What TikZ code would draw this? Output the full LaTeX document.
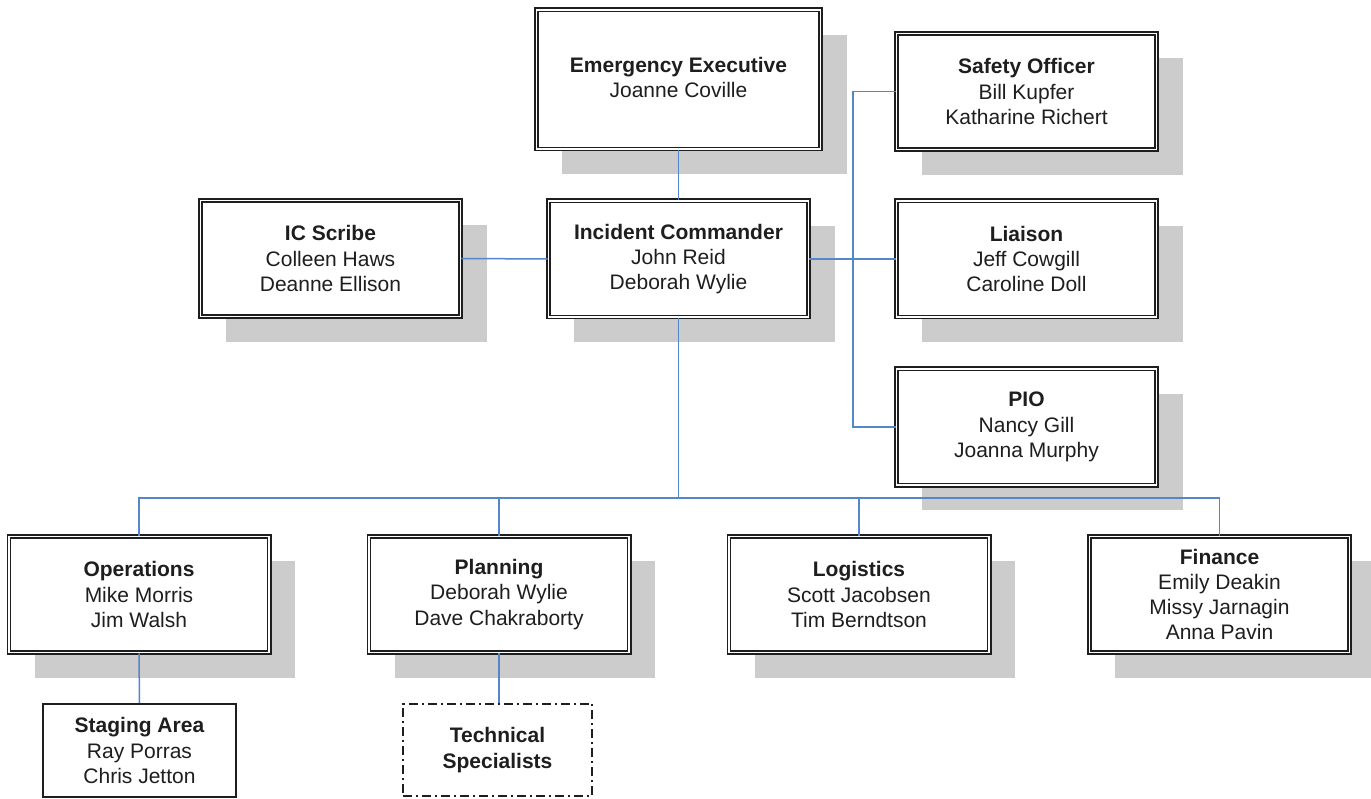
\documentclass[tikz,border=0pt]{standalone}
\usepackage{fontspec}
\setmainfont{Liberation Sans}
\usetikzlibrary{shadows}
\definecolor{shadowgray}{RGB}{204,204,204}
\definecolor{linkblue}{RGB}{84,134,204}
\definecolor{boxline}{RGB}{30,30,30}
\definecolor{txt}{RGB}{30,30,30}
\begin{document}
\begin{tikzpicture}[x=1pt,y=-1pt,
  base/.style={align=center, inner sep=0pt, text=txt, fill=white,
    font=\fontsize{21}{25.3}\selectfont},
  box/.style={base, draw=boxline, double=white, double distance=1.6pt, line width=1.6pt,
    drop shadow={shadow xshift=26pt, shadow yshift=-25pt, fill=shadowgray, opacity=1},
    minimum width=260.2pt, minimum height=116.2pt},
  plainbox/.style={base, draw=boxline, line width=1.8pt},
  dashbox/.style={base, draw=boxline, line width=1.8pt, dash pattern=on 9pt off 4pt on 2pt off 4pt},
  link/.style={draw=linkblue, line width=1.5pt}]
\useasboundingbox (0,0) rectangle (1371,799);
\fill[white] (0,0) rectangle (1371,799);

\node[box, minimum width=284.2pt, minimum height=139.2pt] (ee) at (678.5,79.5) {\textbf{Emergency Executive}\\Joanne Coville\vspace{4pt}};
\node[box] (safety) at (1026.5,91.5) {\textbf{Safety Officer}\\Bill Kupfer\\Katharine Richert};
\node[box] (scribe) at (330.5,258.5) {\textbf{IC Scribe}\\Colleen Haws\\Deanne Ellison};
\node[box] (ic) at (678.5,259) {\textbf{Incident Commander}\\John Reid\\Deborah Wylie};
\node[box] (liaison) at (1026.5,259) {\textbf{Liaison}\\Jeff Cowgill\\Caroline Doll};
\node[box] (pio) at (1026.5,427) {\textbf{PIO}\\Nancy Gill\\Joanna Murphy};
\node[box] (ops) at (139,594.5) {\textbf{Operations}\\Mike Morris\\Jim Walsh};
\node[box] (plan) at (499,594.5) {\textbf{Planning}\\Deborah Wylie\\Dave Chakraborty};
\node[box] (log) at (859,594.5) {\textbf{Logistics}\\Scott Jacobsen\\Tim Berndtson};
\node[box] (fin) at (1219.5,594.5) {\textbf{Finance}\\Emily Deakin\\Missy Jarnagin\\Anna Pavin};
\node[plainbox, minimum width=193.2pt, minimum height=93.2pt] (stage) at (139.5,750.5) {\textbf{Staging Area}\\Ray Porras\\Chris Jetton};
\node[dashbox, minimum width=189.2pt, minimum height=92.2pt] (tech) at (497.5,750) {\textbf{Technical}\\\textbf{Specialists}};

\coordinate (sv) at (853,0);
\coordinate (bus) at (0,498);

\draw[link] (ee.south) -- (ic.north);
\draw[link] (scribe.east) -- (ic.west);
\draw[link] (ic.east) -- (liaison.west);
\draw[link] (safety.west) -- (safety.west -| sv) -- (pio.west -| sv) -- (pio.west);
\draw[link] (ic.south) -- (ic.south |- bus);
\draw[link] (ops.north) -- (ops.north |- bus) -- (fin.north |- bus) -- (fin.north);
\draw[link] (plan.north) -- (plan.north |- bus);
\draw[link] (log.north) -- (log.north |- bus);
\draw[link] (ops.south) -- (stage.north);
\draw[link] (plan.south) -- (plan.south |- tech.north);
\end{tikzpicture}
\end{document}
